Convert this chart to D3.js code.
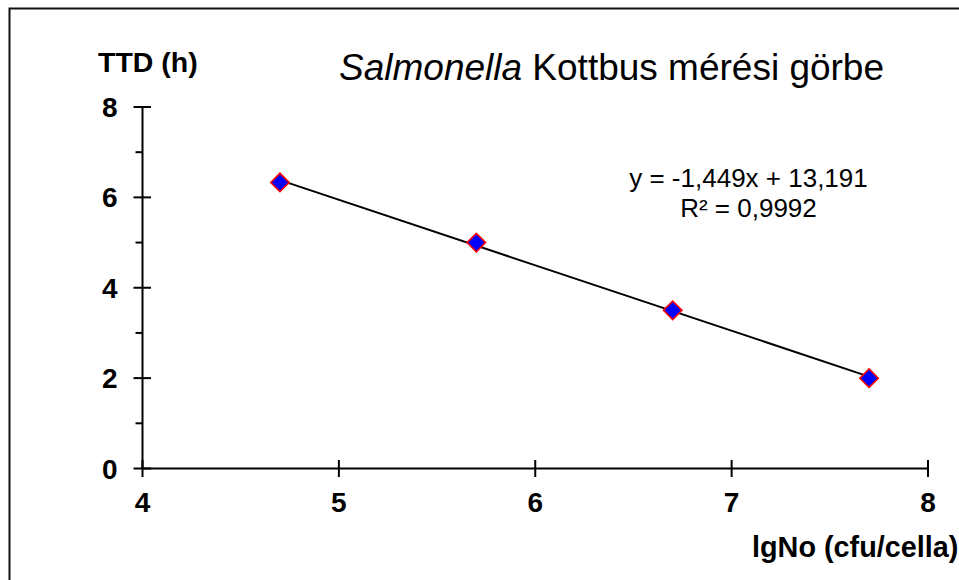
<!DOCTYPE html>
<html>
<head>
<meta charset="utf-8">
<script src="https://cdn.jsdelivr.net/npm/d3@7"></script>
<style>
  html, body { margin: 0; padding: 0; background: #fff; }
  svg { display: block; }
  text { font-family: "Liberation Sans", Arial, sans-serif; fill: #000; }
</style>
</head>
<body>
<svg id="chart" width="959" height="580"></svg>
<script>
// Calibration curve data: log cell count vs time to detection
const lgNo = [4.7, 5.7, 6.7, 7.7];
const ttd = [6.33, 5.0, 3.5, 2.0];

// Linear trend line parameters (as printed on the chart)
const slope = -1.449;
const intercept = 13.191;
const rSquared = "0,9992";

const xTicks = [4, 5, 6, 7, 8];
const yTicks = [0, 2, 4, 6, 8];
const yMinorTicks = [1, 3, 5, 7];

const svg = d3.select("#chart");

// Outer frame
svg.append("rect")
  .attr("x", 9.5).attr("y", 8.5)
  .attr("width", 960).attr("height", 580)
  .attr("fill", "none").attr("stroke", "#111").attr("stroke-width", 2);

const x = d3.scaleLinear().domain([4, 8]).range([142.5, 928]);
const y = d3.scaleLinear().domain([0, 8]).range([468.5, 107]);

// Y axis: major ticks cross the axis, minor ticks outside only
const yAxis = svg.append("g").attr("transform", `translate(${x(4)},0)`);
yAxis.append("line")
  .attr("x1", 0).attr("x2", 0).attr("y1", y(0)).attr("y2", y(8))
  .attr("stroke", "#000").attr("stroke-width", 2);
yAxis.selectAll(".major").data(yTicks).join("line")
  .attr("x1", -9).attr("x2", 8.5)
  .attr("y1", d => y(d)).attr("y2", d => y(d))
  .attr("stroke", "#000").attr("stroke-width", 2);
yAxis.selectAll(".minor").data(yMinorTicks).join("line")
  .attr("x1", -7).attr("x2", 0)
  .attr("y1", d => y(d)).attr("y2", d => y(d))
  .attr("stroke", "#000").attr("stroke-width", 2);
yAxis.selectAll("text").data(yTicks).join("text")
  .attr("x", -25).attr("y", d => y(d))
  .attr("dy", "0.36em")
  .attr("text-anchor", "end")
  .attr("font-size", 28).attr("font-weight", "bold")
  .text(d => d);

// X axis
const xAxis = svg.append("g").attr("transform", `translate(0,${y(0)})`);
xAxis.append("line")
  .attr("x1", x(4)).attr("x2", x(8)).attr("y1", 0).attr("y2", 0)
  .attr("stroke", "#000").attr("stroke-width", 2);
xAxis.selectAll(".tick").data(xTicks).join("line")
  .attr("x1", d => x(d)).attr("x2", d => x(d))
  .attr("y1", -8.5).attr("y2", 8.5)
  .attr("stroke", "#000").attr("stroke-width", 2);
xAxis.selectAll("text").data(xTicks).join("text")
  .attr("x", d => x(d)).attr("y", 33.5)
  .attr("dy", "0.36em")
  .attr("text-anchor", "middle")
  .attr("font-size", 28).attr("font-weight", "bold")
  .text(d => d);

// Trend line across the measured range
const x0 = d3.min(lgNo), x1 = d3.max(lgNo);
svg.append("line")
  .attr("x1", x(x0)).attr("y1", y(slope * x0 + intercept))
  .attr("x2", x(x1)).attr("y2", y(slope * x1 + intercept))
  .attr("stroke", "#000").attr("stroke-width", 2);

// Diamond markers
const diamond = d3.symbol().type(d3.symbolSquare).size(170);
svg.selectAll(".pt").data(lgNo.map((v, i) => [v, ttd[i]])).join("path")
  .attr("d", diamond)
  .attr("transform", d => `translate(${x(d[0])},${y(d[1])}) rotate(45)`)
  .attr("fill", "#0000ff").attr("stroke", "#ff0000").attr("stroke-width", 1.6);

// Title
const title = svg.append("text")
  .attr("x", 339).attr("y", 80)
  .attr("font-size", 37);
title.append("tspan").attr("font-style", "italic").text("Salmonella");
title.append("tspan").text(" Kottbus mérési görbe");

// Axis titles
svg.append("text")
  .attr("x", 98).attr("y", 72)
  .attr("font-size", 28.5).attr("font-weight", "bold")
  .text("TTD (h)");
svg.append("text")
  .attr("x", 752).attr("y", 557)
  .attr("font-size", 28.8).attr("font-weight", "bold")
  .text("lgNo (cfu/cella)");

// Regression equation
const eq = svg.append("text")
  .attr("text-anchor", "middle")
  .attr("font-size", 26);
eq.append("tspan").attr("x", 748.5).attr("y", 187)
  .text(`y = ${d3.format(".3f")(slope).replace(".", ",").replace("−", "-")}x + ${d3.format(".3f")(intercept).replace(".", ",")}`);
eq.append("tspan").attr("x", 748.5).attr("y", 217)
  .text(`R² = ${rSquared}`);
</script>
</body>
</html>
